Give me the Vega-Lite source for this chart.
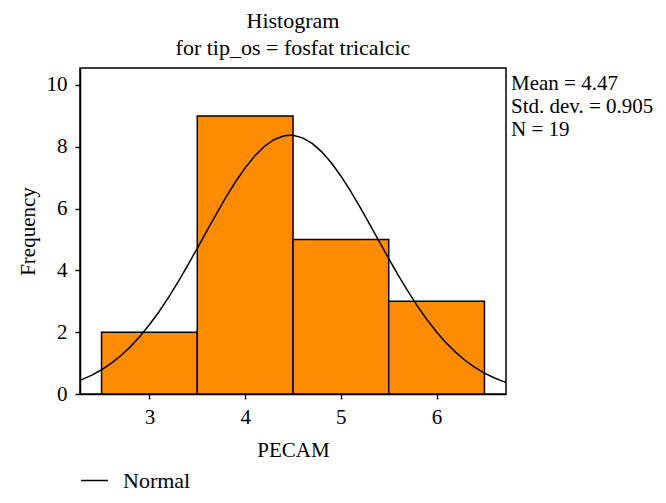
{
  "$schema": "https://vega.github.io/schema/vega-lite/v6.json",
  "width": 426,
  "height": 326,
  "autosize": {"type": "none"},
  "padding": {"left": 80, "top": 68, "right": 160, "bottom": 109},
  "background": "white",
  "config": {
    "font": "Liberation Serif",
    "view": {"stroke": "black", "strokeWidth": 1.5},
    "axis": {
      "labelFont": "Liberation Serif",
      "titleFont": "Liberation Serif",
      "labelFontSize": 21,
      "titleFontSize": 21,
      "titleFontWeight": "normal",
      "labelColor": "black",
      "titleColor": "black",
      "tickColor": "black",
      "domainColor": "black",
      "tickSize": 5,
      "tickWidth": 1.5,
      "domainWidth": 1.5,
      "grid": false
    },
    "legend": {
      "labelFont": "Liberation Serif",
      "labelFontSize": 22,
      "labelColor": "black"
    },
    "title": {
      "font": "Liberation Serif",
      "fontSize": 22,
      "fontWeight": "normal",
      "color": "black"
    }
  },
  "title": {
    "text": ["Histogram", "for tip_os = fosfat tricalcic"],
    "lineHeight": 27,
    "offset": 8
  },
  "datasets": {
    "bins": [
      {"lo": 2.5, "hi": 3.5, "count": 2},
      {"lo": 3.5, "hi": 4.5, "count": 9},
      {"lo": 4.5, "hi": 5.5, "count": 5},
      {"lo": 5.5, "hi": 6.5, "count": 3}
    ],
    "curve": [
      {"x": 2.275, "f": 0.442}, {"x": 2.3, "f": 0.473}, {"x": 2.4, "f": 0.612},
      {"x": 2.5, "f": 0.784}, {"x": 2.6, "f": 0.991}, {"x": 2.7, "f": 1.237},
      {"x": 2.8, "f": 1.526}, {"x": 2.9, "f": 1.86}, {"x": 3.0, "f": 2.239},
      {"x": 3.1, "f": 2.663}, {"x": 3.2, "f": 3.129}, {"x": 3.3, "f": 3.631},
      {"x": 3.4, "f": 4.164}, {"x": 3.5, "f": 4.716}, {"x": 3.6, "f": 5.277},
      {"x": 3.7, "f": 5.832}, {"x": 3.8, "f": 6.369}, {"x": 3.9, "f": 6.869},
      {"x": 4.0, "f": 7.319}, {"x": 4.1, "f": 7.705}, {"x": 4.2, "f": 8.011},
      {"x": 4.3, "f": 8.23}, {"x": 4.4, "f": 8.351}, {"x": 4.47, "f": 8.376},
      {"x": 4.5, "f": 8.371}, {"x": 4.6, "f": 8.29}, {"x": 4.7, "f": 8.11},
      {"x": 4.8, "f": 7.837}, {"x": 4.9, "f": 7.482}, {"x": 5.0, "f": 7.056},
      {"x": 5.1, "f": 6.574}, {"x": 5.2, "f": 6.05}, {"x": 5.3, "f": 5.5},
      {"x": 5.4, "f": 4.94}, {"x": 5.5, "f": 4.383}, {"x": 5.6, "f": 3.841},
      {"x": 5.7, "f": 3.326}, {"x": 5.8, "f": 2.845}, {"x": 5.9, "f": 2.404},
      {"x": 6.0, "f": 2.006}, {"x": 6.1, "f": 1.654}, {"x": 6.2, "f": 1.348},
      {"x": 6.3, "f": 1.084}, {"x": 6.4, "f": 0.862}, {"x": 6.5, "f": 0.677},
      {"x": 6.6, "f": 0.525}, {"x": 6.7, "f": 0.402}, {"x": 6.725, "f": 0.376}
    ],
    "stats": [
      {"xpos": 6.725, "ypos": 10.55, "label": ["Mean = 4.47", "Std. dev. = 0.905", "N = 19"]}
    ]
  },
  "layer": [
    {
      "data": {"name": "bins"},
      "mark": {"type": "rect", "fill": "#fe8b02", "stroke": "black", "strokeWidth": 1.5},
      "encoding": {
        "x": {
          "field": "lo", "type": "quantitative",
          "scale": {"domain": [2.275, 6.725], "nice": false, "zero": false},
          "axis": {"values": [3, 4, 5, 6], "format": "d", "title": "PECAM", "labelPadding": 7, "titlePadding": 12}
        },
        "x2": {"field": "hi"},
        "y": {
          "field": "count", "type": "quantitative",
          "scale": {"domain": [0, 10.55], "nice": false},
          "axis": {"values": [0, 2, 4, 6, 8, 10], "title": "Frequency", "labelPadding": 8, "titlePadding": 8}
        },
        "y2": {"datum": 0}
      }
    },
    {
      "data": {"name": "curve"},
      "mark": {"type": "line", "strokeWidth": 1.5},
      "encoding": {
        "x": {"field": "x", "type": "quantitative"},
        "y": {"field": "f", "type": "quantitative"},
        "color": {
          "datum": "Normal",
          "type": "nominal",
          "scale": {"range": ["black"]},
          "legend": {
            "title": null,
            "orient": "bottom",
            "direction": "horizontal",
            "symbolType": "stroke",
            "symbolSize": 729,
            "symbolStrokeWidth": 1.5,
            "labelOffset": 14,
            "offset": 6
          }
        }
      }
    },
    {
      "data": {"name": "stats"},
      "mark": {"type": "text", "align": "left", "baseline": "top", "dx": 5, "dy": 5, "fontSize": 21, "lineHeight": 23, "font": "Liberation Serif", "color": "black"},
      "encoding": {
        "x": {"field": "xpos", "type": "quantitative"},
        "y": {"field": "ypos", "type": "quantitative"},
        "text": {"field": "label"}
      }
    }
  ]
}
